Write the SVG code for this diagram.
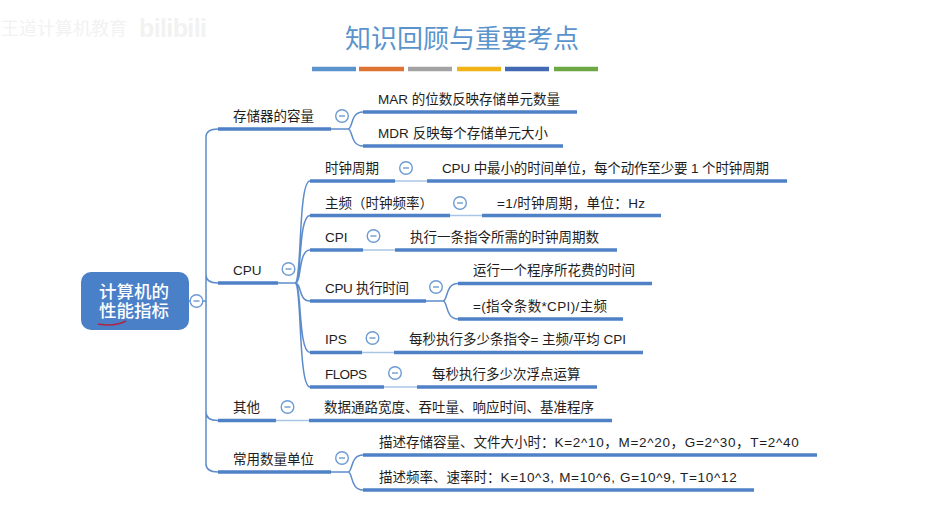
<svg xmlns="http://www.w3.org/2000/svg" width="939" height="508" viewBox="0 0 939 508">
<style>
text{font-family:"Liberation Sans","Noto Sans CJK SC",sans-serif;font-size:13.5px;fill:#1e1e1e;dominant-baseline:central}
.u{stroke:#4f81c7;stroke-width:3.4;fill:none}
.c{stroke:#5c8ccb;stroke-width:1.5;fill:none}
.t{stroke:#a9c5e6;stroke-width:1.5;fill:none}
.k{fill:#fff;stroke:#6d9bd2;stroke-width:1.4}
.m{stroke:#6d9bd2;stroke-width:1.4}
.b{stroke-width:4.5;fill:none}
.w{fill:#f2f2f2}
.r{font-size:17.5px;fill:#fff;font-weight:500}
.l{letter-spacing:.68px}
</style>
<defs>
<g id="tog"><circle r="6.3" class="k"/><line x1="-3" x2="3" class="m"/></g>
</defs>
<rect width="939" height="508" fill="#fff"/>
<text class="w" x="1" y="29" style="font-size:18px">王道计算机教育</text>
<text class="w" x="139" y="28" textLength="68" style="font-size:25px;font-weight:bold">bilibili</text>
<text x="345" y="38.500" style="font-size:26px;fill:#5b94cd">知识回顾与重要考点</text>
<g id="bars">
<line class="b" x1="312" x2="356" y1="69" y2="69" stroke="#5b94cd"/>
<line class="b" x1="359" x2="404" y1="69" y2="69" stroke="#dd7434"/>
<line class="b" x1="408" x2="452" y1="69" y2="69" stroke="#a3a3a3"/>
<line class="b" x1="457" x2="501" y1="69" y2="69" stroke="#f2b317"/>
<line class="b" x1="505" x2="549" y1="69" y2="69" stroke="#4469b4"/>
<line class="b" x1="554" x2="598" y1="69" y2="69" stroke="#6ea844"/>
</g>
<g id="connectors">
<path class="c" d="M189 301H206M206 301V137Q206 129 218 129M206 275Q206 283 218 283M206 301V464Q206 472 218 472M206 412Q206 420.500 218 420.500"/>
<path class="c" d="M278 283H295M295 283C302 283 298 181 310 181M295 283C302 283 298 215.500 310 215.500M295 283C302 283 298 250 310 250M295 283C302 283 298 301 310 301M295 283C302 283 298 352.500 310 352.500M295 283C302 283 298 387 310 387"/>
<path class="c" d="M331 129H348M348 129C353 129 350 112 363 112M348 129C353 129 350 146 363 146"/>
<path class="c" d="M426 301H443M443 301C448 301 445 283.500 458 283.500M443 301C448 301 445 319 458 319"/>
<path class="c" d="M331 472H348M348 472C353 472 350 455 363 455M348 472C353 472 350 490 363 490"/>
<path class="t" d="M395 181H427M450 215.500H482M363 250H395M362 352.500H394M384 387H417M276 420.500H309"/>
</g>
<g id="root">
<rect x="81" y="272" width="108" height="58" rx="10" fill="#4a80c8"/>
<text class="r" x="99" y="292">计算机的</text>
<text class="r" x="99" y="311">性能指标</text>
<path d="M98 324Q114 327 126 321" fill="none" stroke="#b3243e" stroke-width="1.600"/>
<use href="#tog" x="196.500" y="301"/>
</g>
<g id="n-storage"><line class="u" x1="218" x2="331" y1="129" y2="129"/><text x="233" y="116">存储器的容量</text><use href="#tog" x="342" y="116"/></g>
<g id="n-mar"><line class="u" x1="363" x2="577" y1="112" y2="112"/><text x="378" y="99" textLength="182">MAR 的位数反映存储单元数量</text></g>
<g id="n-mdr"><line class="u" x1="363" x2="563" y1="146" y2="146"/><text x="378" y="133" textLength="170">MDR 反映每个存储单元大小</text></g>
<g id="n-cpu"><line class="u" x1="218" x2="278" y1="283" y2="283"/><text x="233" y="270">CPU</text><use href="#tog" x="288.500" y="269"/></g>
<g id="n-clock"><line class="u" x1="310" x2="395" y1="181" y2="181"/><text x="325" y="168">时钟周期</text><use href="#tog" x="406" y="168"/></g>
<g id="n-clock-d"><line class="u" x1="427" x2="787" y1="181" y2="181"/><text x="442" y="168" textLength="327">CPU 中最小的时间单位，每个动作至少要 1 个时钟周期</text></g>
<g id="n-freq"><line class="u" x1="310" x2="450" y1="215.500" y2="215.500"/><text x="325" y="203">主频（时钟频率）</text><use href="#tog" x="460" y="203"/></g>
<g id="n-freq-d"><line class="u" x1="482" x2="661" y1="215.500" y2="215.500"/><text x="497" y="203" textLength="148">=1/时钟周期，单位：Hz</text></g>
<g id="n-cpi"><line class="u" x1="310" x2="363" y1="250" y2="250"/><text x="325" y="237">CPI</text><use href="#tog" x="373.500" y="236"/></g>
<g id="n-cpi-d"><line class="u" x1="395" x2="617" y1="250" y2="250"/><text x="410" y="237">执行一条指令所需的时钟周期数</text></g>
<g id="n-time"><line class="u" x1="310" x2="426" y1="301" y2="301"/><text x="325" y="288" textLength="84">CPU 执行时间</text><use href="#tog" x="436" y="287"/></g>
<g id="n-time-a"><line class="u" x1="458" x2="652" y1="283.500" y2="283.500"/><text x="473" y="270">运行一个程序所花费的时间</text></g>
<g id="n-time-b"><line class="u" x1="458" x2="623" y1="319" y2="319"/><text x="473" y="306" textLength="134">=(指令条数*CPI)/主频</text></g>
<g id="n-ips"><line class="u" x1="310" x2="362" y1="352.500" y2="352.500"/><text x="325" y="339">IPS</text><use href="#tog" x="372.500" y="338"/></g>
<g id="n-ips-d"><line class="u" x1="394" x2="643" y1="352.500" y2="352.500"/><text x="409" y="339" textLength="217">每秒执行多少条指令= 主频/平均 CPI</text></g>
<g id="n-flops"><line class="u" x1="310" x2="384" y1="387" y2="387"/><text x="325" y="374" textLength="42">FLOPS</text><use href="#tog" x="395" y="373"/></g>
<g id="n-flops-d"><line class="u" x1="417" x2="597" y1="387" y2="387"/><text x="432" y="374">每秒执行多少次浮点运算</text></g>
<g id="n-other"><line class="u" x1="218" x2="276" y1="420.500" y2="420.500"/><text x="233" y="407">其他</text><use href="#tog" x="287.500" y="407"/></g>
<g id="n-other-d"><line class="u" x1="309" x2="612" y1="420.500" y2="420.500"/><text x="324" y="407.500">数据通路宽度、吞吐量、响应时间、基准程序</text></g>
<g id="n-units"><line class="u" x1="218" x2="331" y1="472" y2="472"/><text x="233" y="459">常用数量单位</text><use href="#tog" x="342" y="458"/></g>
<g id="n-units-a"><line class="u" x1="363" x2="817" y1="455" y2="455"/><text x="379" y="442">描述存储容量、文件大小时：<tspan class="l">K=2^10，M=2^20，G=2^30，T=2^40</tspan></text></g>
<g id="n-units-b"><line class="u" x1="363" x2="754" y1="490" y2="490"/><text x="379" y="477">描述频率、速率时：<tspan class="l">K=10^3, M=10^6, G=10^9, T=10^12</tspan></text></g>
</svg>
